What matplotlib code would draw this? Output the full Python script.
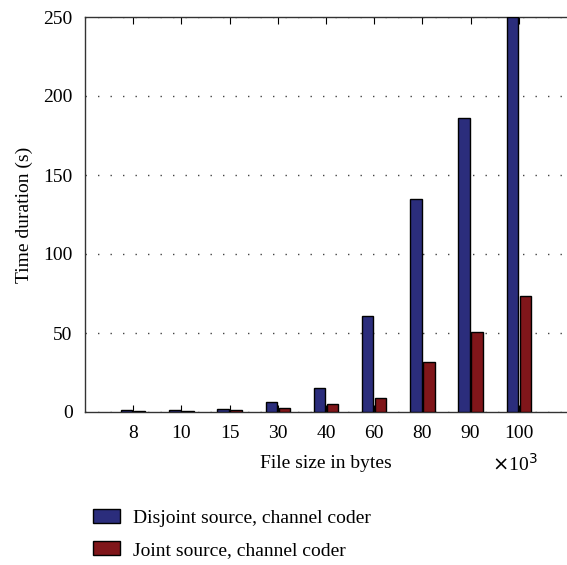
import numpy as np
import matplotlib
matplotlib.use('Agg')
import matplotlib.pyplot as plt

# data
sizes = ['8', '10', '15', '30', '40', '60', '80', '90', '100']
disjoint = [1.1, 1.1, 1.9, 6.1, 15.4, 61, 134.8, 186.3, 250]
joint = [0.5, 0.5, 1.1, 2.3, 4.9, 8.9, 31.4, 50.4, 73.4]
labels = ['Disjoint source, channel coder', 'Joint source, channel coder']

plt.rcParams['font.family'] = ['Liberation Serif', 'DejaVu Serif']
plt.rcParams['font.size'] = 14

fig = plt.figure(figsize=(5.67, 5.65), dpi=100)
ax = fig.add_axes([85 / 567, 1 - 412 / 565, 1 - 85 / 567, (412 - 17) / 565])

x = np.arange(1, len(sizes) + 1)
w = 0.24
ax.bar(x - 0.135, disjoint, w, color='#2b2d7c', edgecolor='black',
       linewidth=1, label=labels[0], zorder=3)
ax.bar(x + 0.135, joint, w, color='#80161a', edgecolor='black',
       linewidth=1, label=labels[1], zorder=3)

ax.set_xlim(0, 10)
ax.set_ylim(0, 250)
ax.set_xticks(x)
ax.set_xticklabels(sizes)
ax.set_yticks([0, 50, 100, 150, 200, 250])
ax.tick_params(axis='x', direction='in', length=5, top=True, pad=9)
ax.tick_params(axis='y', length=0, pad=9)
ax.yaxis.grid(True, linestyle=(0, (1, 8)), color='#444444', linewidth=1, zorder=0)
ax.spines['right'].set_visible(False)
for s in ('left', 'top', 'bottom'):
    ax.spines[s].set_color('#333333')
    ax.spines[s].set_linewidth(1)

ax.set_xlabel('File size in bytes', labelpad=10)
ax.set_ylabel('Time duration (s)', labelpad=7)
fig.text(492 / 567, 1 - 464 / 565, r'$\times$10$^3$', ha='left', va='center')

fig.legend(loc='upper left', bbox_to_anchor=(93 / 567, 1 - 509 / 565),
           frameon=False, handlelength=1.4, handleheight=0.75,
           labelspacing=0.72, handletextpad=0.65, borderpad=0,
           borderaxespad=0)

fig.savefig('out.png', dpi=100)
